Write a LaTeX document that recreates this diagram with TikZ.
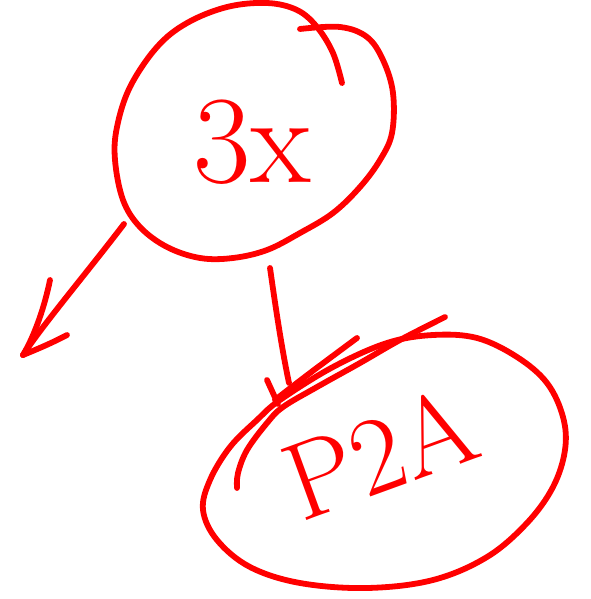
\documentclass[tikz,border=0pt]{standalone}
\usetikzlibrary{calc}
\definecolor{ink}{RGB}{255,0,0}
\tikzset{
  pen/.style={draw=ink, line width=5.8pt, line cap=round, line join=round},
  hand/.style={text=ink, inner sep=0pt},
}
\begin{document}
\begin{tikzpicture}[x=1pt,y=-1pt]
\useasboundingbox (0,0) rectangle (590,599);
% top circle (hand drawn)
\draw[pen] plot[smooth, tension=0.6] coordinates {
 (300,29) (340,27) (367,37) (383,60) (393,93) (392,133) (380,160) (360,187)
 (333,213) (300,233) (267,250) (233,258) (200,258) (167,247) (140,227)
 (123,200) (115,160) (117,127) (130,87) (157,47) (187,23) (227,7) (267,3)
 (297,10) (317,27) (333,53) (342,83)};
\node[hand, font=\fontsize{125}{125}\selectfont] (top) at (252,142) {3x};
% lower ellipse (hand drawn)
\draw[pen] plot[smooth cycle, tension=0.6] coordinates {
 (280,400) (333,367) (387,343) (433,335) (477,338) (517,357) (547,383)
 (563,417) (565,450) (553,487) (527,523) (487,557) (433,580) (367,588)
 (300,583) (250,567) (217,540) (203,510) (210,480) (230,447) (257,420)};
\node[hand, rotate=20, font=\fontsize{110}{110}\selectfont] (bottom) at (380,452) {P2A};
% extra strokes over the lower ellipse
\draw[pen] plot[smooth, tension=0.6] coordinates {
 (237,488) (238,473) (247,450) (267,423) (283,407) (317,387) (360,363) (400,340) (445,317)};
\draw[pen] plot[smooth, tension=0.6] coordinates {(275,400) (310,373) (357,338)};
% arrow to lower ellipse
\coordinate (a1s) at (270,268);
\coordinate (a1e) at (289,383);
\draw[pen] (a1s) .. controls (276,310) and (282,350) .. (a1e);
\coordinate (b1s) at (267,380);
\coordinate (b1e) at (278,404);
\draw[pen] (b1s) -- (b1e);
% arrow to the lower left
\coordinate (a2s) at (124,224);
\coordinate (a2e) at (23,355);
\draw[pen] (a2s) .. controls (85,275) and (45,322) .. (a2e);
\coordinate (b2s) at (50,280);
\draw[pen] (b2s) .. controls (45,305) and (35,335) .. (a2e);
\coordinate (b3s) at (67,335);
\draw[pen] (b3s) .. controls (50,344) and (35,350) .. (a2e);
\end{tikzpicture}
\end{document}
